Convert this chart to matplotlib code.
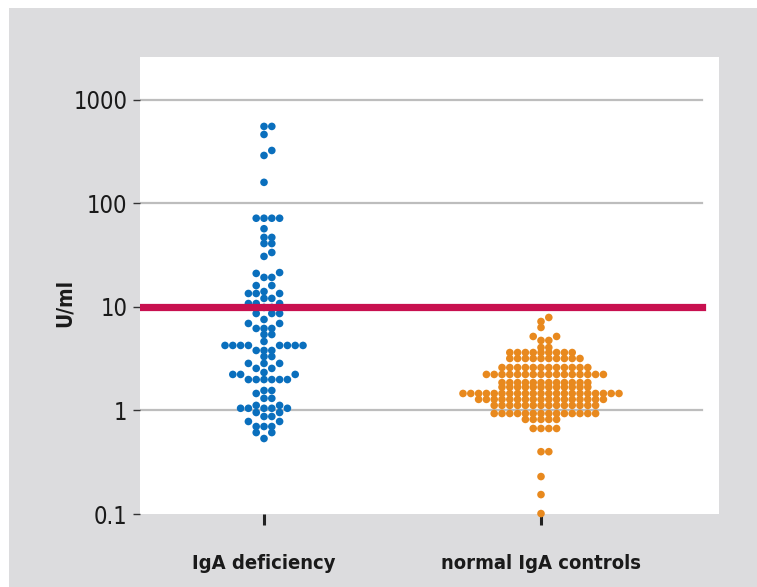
import numpy as np
import matplotlib
matplotlib.use("Agg")
import matplotlib.pyplot as plt
import matplotlib.patches as patches
from matplotlib.ticker import FixedLocator, FixedFormatter, NullLocator

# groups on the x axis
groups = ["IgA deficiency", "normal IgA controls"]

# values (U/ml), with how many dots sit at each level
iga_def_levels = [555, 464, 325, 291, 160, 72, 57, 47, 41, 33.6, 30.8, 21.5, 21.1,
                  19.3, 16.1, 14.1, 13.5, 12.1, 10.8, 9.9, 8.65, 7.57, 6.93, 6.2,
                  5.42, 4.64, 4.25, 3.8, 3.32, 2.85, 2.55, 2.33, 2.23, 1.99, 1.56,
                  1.46, 1.31, 1.12, 1.05, 0.956, 0.875, 0.783, 0.70, 0.612, 0.536]
iga_def_counts = [2, 1, 1, 1, 1, 4, 1, 2, 2, 1, 1, 1, 1,
                  2, 2, 1, 3, 2, 3, 2, 3, 1, 2, 3,
                  2, 1, 8, 3, 2, 3, 2, 1, 3, 6, 2,
                  1, 2, 2, 5, 2, 2, 2, 3, 2, 1]

control_levels = [7.92, 7.24, 6.34, 5.19, 4.75, 4.06, 3.63, 3.18, 2.60, 2.23, 1.86,
                  1.68, 1.46, 1.28, 1.12, 0.935, 0.82, 0.67, 0.40, 0.23, 0.154, 0.101]
control_counts = [1, 1, 1, 2, 2, 2, 9, 10, 12, 16, 12,
                  12, 21, 17, 14, 14, 5, 4, 2, 1, 1, 1]

cutoff = 10
y_ticks = [0.1, 1, 10, 100, 1000]
y_tick_labels = ["0.1", "1", "10", "100", "1000"]

BLUE = "#0a6fbd"
ORANGE = "#e8891e"
RED = "#c8104f"
BG = "#dcdcde"
GRID = "#bdbdbd"
FONT = dict(family="DejaVu Sans", stretch="condensed")


def swarm_columns(values, thr):
    """Put each dot in the nearest free column (0, +1, -1, +2 ...)."""
    logv = np.log10(values)
    placed = {}
    cols = np.zeros(len(values))
    for i in np.argsort(logv, kind="stable"):
        step = 0
        while True:
            c = (step + 1) // 2 * (1 if step % 2 else -1)
            if all(abs(l - logv[i]) >= thr for l in placed.get(c, [])):
                break
            step += 1
        placed.setdefault(c, []).append(logv[i])
        cols[i] = c
    return cols


fig = plt.figure(figsize=(7.57, 5.87), dpi=100, facecolor="white")
W, H = 757, 587
fig.add_artist(patches.Rectangle((9 / W, 0), 1, 1 - 8 / H, transform=fig.transFigure,
                                 facecolor=BG, edgecolor="none", zorder=-10))

ax = fig.add_axes([140 / W, (H - 514) / H, (719 - 140) / W, (514 - 57) / H])
ax.set_facecolor("white")
for s in ax.spines.values():
    s.set_visible(False)

ax.set_yscale("log")
ax.set_ylim(0.1, 2600)
ax.set_xlim(-0.4477, 1.6426)

grid_end = (702 - 140) / (719 - 140)
for t in [1, 100, 1000]:
    ax.axhline(t, xmin=0, xmax=grid_end, color=GRID, lw=1.6, zorder=1)
ax.axhline(cutoff, xmin=0, xmax=grid_end, color=RED, lw=5.2, zorder=4)

dx = 7.8 / 277
series = [(iga_def_levels, iga_def_counts, BLUE, 0.058),
          (control_levels, control_counts, ORANGE, 0.044)]
for gi, (levels, counts, color, thr) in enumerate(series):
    vals = np.repeat(levels, counts)
    cols = swarm_columns(vals, thr)
    ax.scatter(gi + cols * dx, vals, s=30, color=color, edgecolors="none",
               zorder=3, clip_on=False)

ax.yaxis.set_major_locator(FixedLocator(y_ticks))
ax.yaxis.set_major_formatter(FixedFormatter(y_tick_labels))
ax.yaxis.set_minor_locator(NullLocator())
ax.tick_params(axis="y", length=5, width=1, color="#333333", pad=4,
               labelsize=17, labelcolor="#1a1a1a")
for lab in ax.get_yticklabels():
    lab.set(**FONT)

ax.set_xticks([0, 1])
ax.set_xticklabels(groups)
ax.tick_params(axis="x", length=8, width=2.2, color="#222222", pad=21,
               labelsize=14.5, labelcolor="#1a1a1a")
for lab in ax.get_xticklabels():
    lab.set(**FONT)
    lab.set_fontweight("bold")

fig.text(65 / W, 1 - 303 / H, "U/ml", rotation=90, ha="center", va="center",
         fontsize=15, fontweight="bold", color="#1a1a1a", **FONT)

fig.savefig("out.png", dpi=100, facecolor="white")
